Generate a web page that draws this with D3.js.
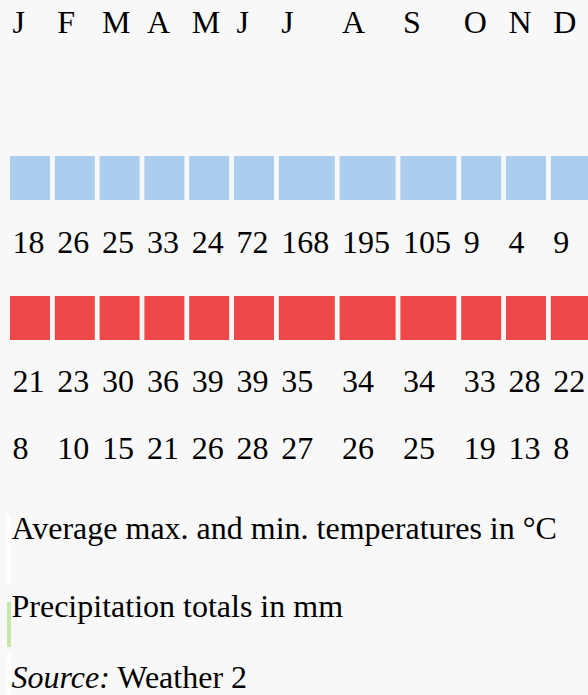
<!DOCTYPE html>
<html>
<head>
<meta charset="utf-8">
<script src="https://cdn.jsdelivr.net/npm/d3@7"></script>
<style>
  html, body { margin: 0; padding: 0; background: #f8f8f8; }
  svg { display: block; }
</style>
</head>
<body>
<div id="chart"></div>
<script>
// climate table values
var months = ["J", "F", "M", "A", "M", "J", "J", "A", "S", "O", "N", "D"];
var precip = [18, 26, 25, 33, 24, 72, 168, 195, 105, 9, 4, 9];
var maxTemp = [21, 23, 30, 36, 39, 39, 35, 34, 34, 33, 28, 22];
var minTemp = [8, 10, 15, 21, 26, 28, 27, 26, 25, 19, 13, 8];
var notes = ["Average max. and min. temperatures in \u00b0C", "Precipitation totals in mm"];

var w = 588, h = 695;
var font = "'Liberation Serif', 'Times New Roman', serif";
var fontSize = 32;

var svg = d3.select("#chart").append("svg")
  .attr("width", w)
  .attr("height", h);

svg.append("rect").attr("width", w).attr("height", h).attr("fill", "#f8f8f8");

// measure widest label of each column to size the cells like a table would
var probe = svg.append("text")
  .attr("font-family", font)
  .attr("font-size", fontSize);
var colWidths = months.map((m, i) => {
  var widest = 0;
  [precip[i], maxTemp[i], minTemp[i]].forEach(v => {
    probe.text(v);
    widest = Math.max(widest, probe.node().getComputedTextLength());
  });
  return widest + 8;
});
probe.remove();

var gap = 4.8;
var starts = [];
colWidths.reduce((acc, cw, i) => { starts.push(acc); return acc + cw + gap; }, 10);

var x = d3.scaleOrdinal().domain(d3.range(12)).range(starts);

// rows: bar tops and text baselines
var barRows = [{ key: "precip", top: 156, color: "#abcdee" },
               { key: "max", top: 296, color: "#ee4747" }];
var textRows = [{ vals: months, base: 33 },
                { vals: precip, base: 253 },
                { vals: maxTemp, base: 392 },
                { vals: minTemp, base: 459 }];

barRows.forEach(r => {
  svg.append("g").selectAll("rect")
    .data(d3.range(12))
    .enter()
    .append("rect")
    .attr("x", i => x(i))
    .attr("y", r.top)
    .attr("width", i => colWidths[i])
    .attr("height", 44)
    .attr("fill", r.color);
});

textRows.forEach(r => {
  svg.append("g").selectAll("text")
    .data(r.vals)
    .enter()
    .append("text")
    .text(d => d)
    .attr("x", (d, i) => x(i) + 2.5)
    .attr("y", r.base)
    .attr("fill", "#000")
    .attr("font-size", fontSize)
    .attr("font-family", font);
});

// little markers at the left of the notes
svg.append("rect").attr("x", 7).attr("y", 515).attr("width", 4).attr("height", 68).attr("fill", "#fff");
svg.append("rect").attr("x", 7).attr("y", 602).attr("width", 4).attr("height", 45).attr("fill", "#c8e6a8");
svg.append("rect").attr("x", 7).attr("y", 652).attr("width", 4).attr("height", 43).attr("fill", "#fff");

svg.selectAll("text.note")
  .data(notes)
  .enter()
  .append("text")
  .attr("class", "note")
  .text(d => d)
  .attr("x", 11.5)
  .attr("y", (d, i) => 539 + i * 78)
  .attr("font-size", fontSize)
  .attr("font-family", font);

var src = svg.append("text")
  .attr("x", 11.5)
  .attr("y", 688)
  .attr("font-size", fontSize)
  .attr("font-family", font);
src.append("tspan").attr("font-style", "italic").text("Source:");
src.append("tspan").text(" Weather 2");
</script>
</body>
</html>
